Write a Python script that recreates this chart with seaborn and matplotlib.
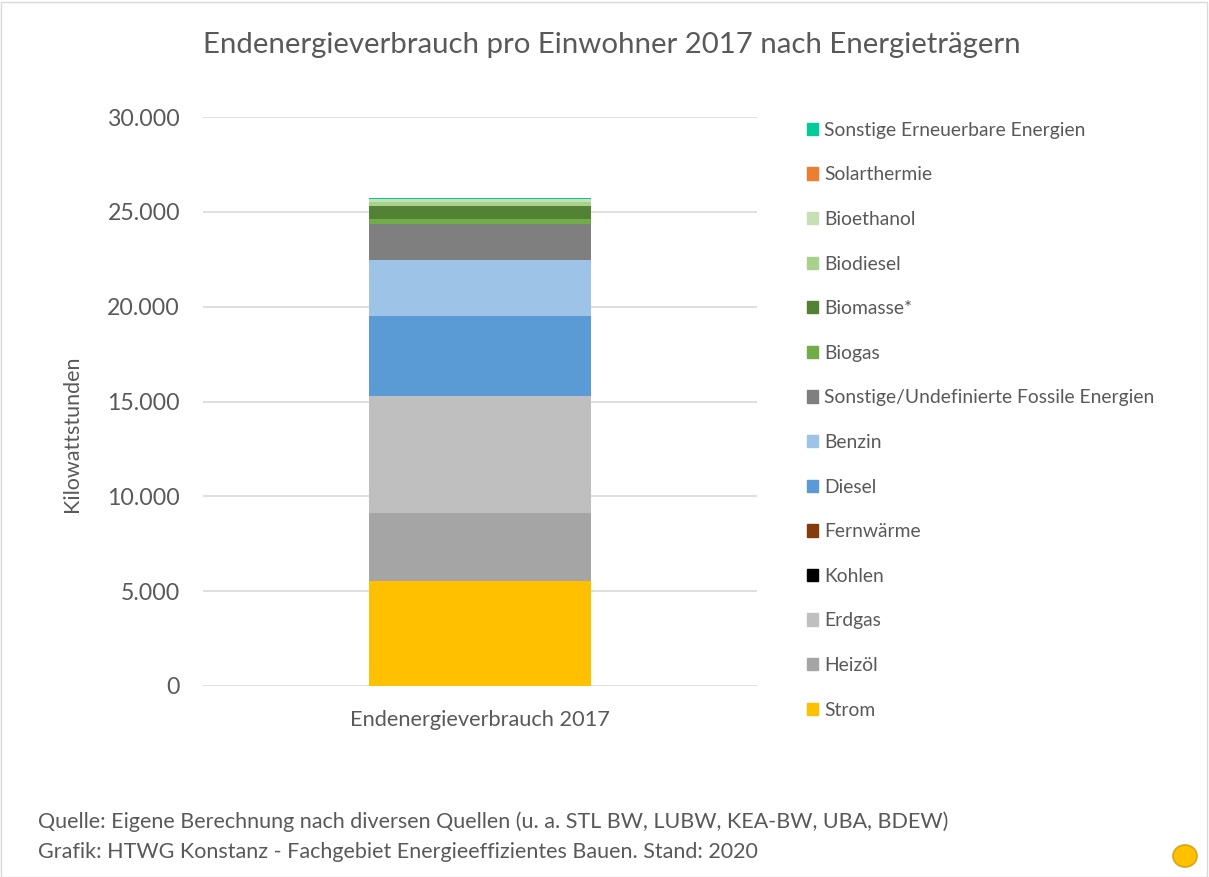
import matplotlib
matplotlib.use("Agg")
import matplotlib.pyplot as plt
import seaborn as sns
import pandas as pd
from matplotlib.patches import Rectangle, Ellipse
from matplotlib.ticker import FuncFormatter

categories = ["Strom", "Heizöl", "Erdgas", "Kohlen", "Fernwärme", "Diesel", "Benzin",
              "Sonstige/Undefinierte Fossile Energien", "Biogas", "Biomasse*",
              "Biodiesel", "Bioethanol", "Solarthermie", "Sonstige Erneuerbare Energien"]
values = [5510, 3585, 6170, 5, 10, 4215, 2970, 1900, 250, 685, 210, 155, 20, 50]
colors = ["#FFC000", "#A5A5A5", "#BFBFBF", "#000000", "#843C0C", "#5B9BD5", "#9DC3E6",
          "#7F7F7F", "#70AD47", "#548235", "#A9D18E", "#C5E0B4", "#ED7D31", "#00CC99"]
bar_label = "Endenergieverbrauch 2017"
yticks = [0, 5000, 10000, 15000, 20000, 25000, 30000]

sns.set_theme(style="white")
plt.rcParams['font.family'] = ['Lato', 'DejaVu Sans']
txt = "#595959"

fig = plt.figure(figsize=(12.09, 8.77), dpi=100)
ax = fig.add_axes([203/1209, 1-686/877, 554/1209, (686-117)/877])

df = pd.DataFrame({"Kategorie": categories, "Wert": values, "Farbe": colors})
bottom = 0
for _, r in df.iterrows():
    sns.barplot(x=[bar_label], y=[r["Wert"]], bottom=bottom, color=r["Farbe"],
                width=0.4, ax=ax, saturation=1, linewidth=0)
    bottom += r["Wert"]

ax.set_ylim(0, 30000)
ax.set_xlim(-0.5, 0.5)
ax.set_yticks(yticks)
ax.yaxis.set_major_formatter(FuncFormatter(lambda v, p: f"{int(v):,}".replace(",", ".")))
ax.grid(axis="y", color="#D9D9D9", linewidth=1.2)
ax.set_axisbelow(True)
for s in ax.spines.values():
    s.set_visible(False)
ax.tick_params(axis="y", labelsize=16.7, colors=txt, pad=16.5, length=0)
ax.tick_params(axis="x", labelsize=15.7, colors=txt, pad=17, length=0)
ax.set_xlabel("")
ax.set_ylabel("")
fig.text(72/1209, 1-434/877, "Kilowattstunden", rotation=90, ha="center", va="center",
         fontsize=15.5, color=txt)

fig.text(612/1209, 1-45/877, "Endenergieverbrauch pro Einwohner 2017 nach Energieträgern",
         ha="center", va="center", fontsize=21.2, color=txt)

handles = [Rectangle((0, 0), 1, 1, color=c) for c in colors][::-1]
labels = categories[::-1]
leg = fig.legend(handles, labels, loc="upper left", bbox_to_anchor=(799/1209, 1-114/877),
                 frameon=False, fontsize=13.9, handlelength=0.6, handleheight=0.6,
                 handletextpad=0.3, labelspacing=1.43, borderaxespad=0)
for t in leg.get_texts():
    t.set_color(txt)

fig.text(38/1209, 1-822/877, "Quelle: Eigene Berechnung nach diversen Quellen (u. a. STL BW, LUBW, KEA-BW, UBA, BDEW)",
         ha="left", va="center", fontsize=15.5, color=txt)
fig.text(38/1209, 1-852/877, "Grafik: HTWG Konstanz - Fachgebiet Energieeffizientes Bauen. Stand: 2020",
         ha="left", va="center", fontsize=15.5, color=txt)

fig.patches.append(Rectangle((1/1209, 0), 1206/1209, 875/877, transform=fig.transFigure,
                             fill=False, edgecolor="#D9D9D9", linewidth=1))
fig.patches.append(Ellipse((1185/1209, 1-856/877), 24/1209, 22/877, transform=fig.transFigure,
                           facecolor="#FFC000", edgecolor="#D4A51A", linewidth=1.2))

fig.savefig("out.png", dpi=100)
